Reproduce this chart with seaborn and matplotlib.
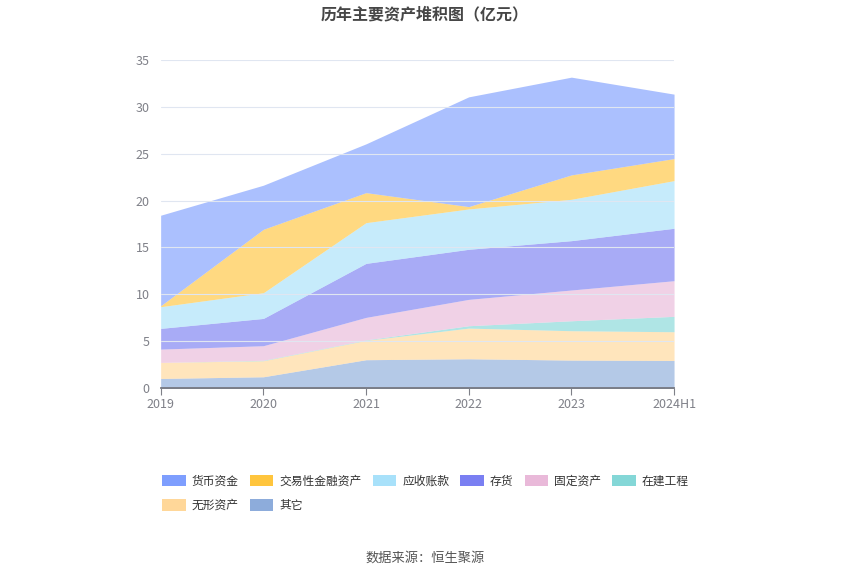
import matplotlib
matplotlib.use("Agg")
import matplotlib.pyplot as plt
from matplotlib.patches import Patch
import seaborn as sns

# data (亿元)
years = ["2019", "2020", "2021", "2022", "2023", "2024H1"]
other = [1.03, 1.21, 3.03, 3.13, 2.99, 2.95]
intangible = [1.71, 1.71, 2.06, 3.27, 3.13, 3.06]
construction = [0.0, 0.05, 0.05, 0.25, 1.06, 1.64]
fixed_assets = [1.42, 1.55, 2.40, 2.81, 3.28, 3.80]
inventory = [2.21, 2.91, 5.76, 5.34, 5.26, 5.59]
receivables = [2.31, 2.74, 4.34, 4.30, 4.41, 5.08]
trading_assets = [0.10, 6.76, 3.20, 0.25, 2.60, 2.35]
cash = [9.65, 4.70, 5.20, 11.70, 10.42, 6.87]

labels = ["其它", "无形资产", "在建工程", "固定资产", "存货", "应收账款", "交易性金融资产", "货币资金"]
colors = ["#8dacdb", "#ffd799", "#84d7d7", "#e9b9d9", "#7a7ff2", "#a8e1fa", "#ffc53d", "#7e9efe"]

sns.set_theme(style="white")
plt.rcParams["font.family"] = ["Noto Sans CJK SC", "DejaVu Sans"]

fig, ax = plt.subplots(figsize=(8.5, 5.75), dpi=100)
fig.subplots_adjust(left=0.189, right=0.793, bottom=0.325, top=0.896)

series = [other, intangible, construction, fixed_assets, inventory, receivables, trading_assets, cash]
x = list(range(len(years)))
ax.stackplot(x, series, colors=colors, alpha=0.65, linewidth=0)

ax.set_xlim(0, len(years) - 1)
ax.set_ylim(0, 35)
ax.set_yticks(range(0, 36, 5))
ax.set_xticks(x)
ax.set_xticklabels(years)
ax.yaxis.grid(True, color="#e0e6f1", linewidth=0.8)
ax.set_axisbelow(False)
for s in ["top", "right", "left"]:
    ax.spines[s].set_visible(False)
ax.spines["bottom"].set_color("#6e7079")
ax.tick_params(axis="x", colors="#7f8088", labelsize=9, length=5, width=0.8,
               direction="out", bottom=True, pad=2)
ax.tick_params(axis="y", colors="#7f8088", labelsize=9, length=0, pad=8)

fig.suptitle("历年主要资产堆积图（亿元）", x=0.5, y=0.988, fontsize=11.5,
             fontweight="bold", color="#464646")

# legend, row-major order in two rows
names = dict(zip(labels, colors))
order = ["货币资金", "无形资产", "交易性金融资产", "其它", "应收账款", "存货", "固定资产", "在建工程"]
handles = [Patch(facecolor=names[n], edgecolor="none", label=n) for n in order]
fig.legend(handles=handles, loc="upper left", bbox_to_anchor=(0.178, 0.193),
           ncol=6, frameon=False, fontsize=8.5, handlelength=2.0, handleheight=1.1,
           handletextpad=0.5, columnspacing=0.95, labelspacing=0.95,
           labelcolor="#333333")

fig.text(0.5, 0.024, "数据来源：恒生聚源", ha="center", fontsize=9.5, color="#555555")

fig.savefig("out.png", dpi=100)
